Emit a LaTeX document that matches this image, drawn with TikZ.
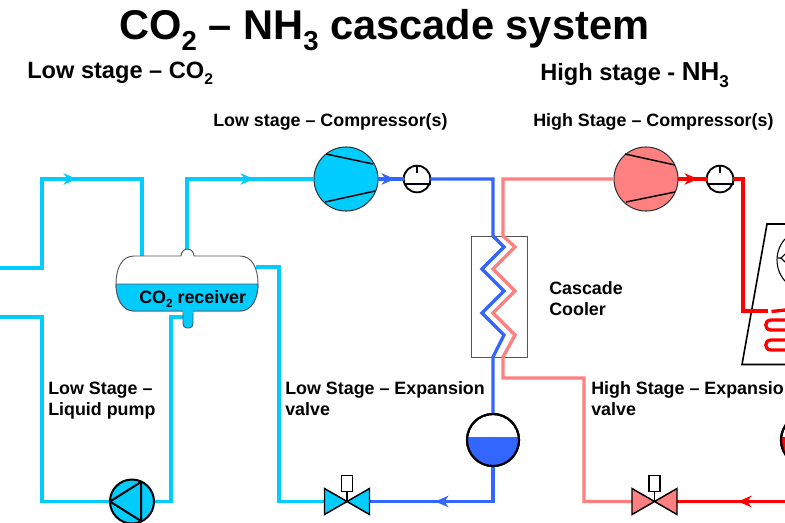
\documentclass[tikz,border=0pt]{standalone}
\usepackage{fontspec}
\usepackage{graphicx}
\setmainfont{Liberation Sans}
\usetikzlibrary{arrows.meta}
\definecolor{coC}{HTML}{00CCFF}
\definecolor{coB}{HTML}{3366FF}
\definecolor{nhP}{HTML}{FF8080}
\definecolor{nhR}{HTML}{FF0000}
\definecolor{edgeG}{HTML}{555555}
\newcommand\lowidx[1]{\raisebox{-0.27em}{\scalebox{.66}{#1}}}
\tikzset{
  pipe/.style={line width=2.5pt,line join=miter},
  pipeC/.style={pipe,draw=coC},
  pipeB/.style={pipe,draw=coB},
  pipeP/.style={pipe,draw=nhP},
  pipeR/.style={pipe,draw=nhR},
  tipped/.style={-{Stealth[length=10pt,width=8.5pt,inset=3pt]}},
  blackline/.style={draw=black,line width=1.1pt},
  compr/.style={circle,draw=black!80,line width=.8pt,minimum size=48pt,inner sep=0pt,outer sep=0pt},
  gauge/.style={circle,draw=black,line width=1.4pt,fill=white,minimum size=20pt,inner sep=0pt,outer sep=0pt},
  vess/.style={circle,draw=black,line width=1.6pt,minimum size=39pt,inner sep=0pt,outer sep=0pt},
  lbl/.style={font=\fontsize{13.4}{15.75}\selectfont\bfseries,anchor=base west,inner sep=0pt,align=left},
  head/.style={font=\fontsize{17.7}{20}\selectfont\bfseries,anchor=base west,inner sep=0pt},
}
\newcommand\valvesym[3]{% name, x, fill
  \begin{scope}[shift={(#2,501.5)}]
    \draw[blackline] (0,0) -- (0,-12);
    \draw[blackline,fill=white] (-5.5,-10) rectangle (5.5,-26);
    \draw[blackline,fill=#3,line join=miter] (-22.5,-13) -- (22.5,13) -- (22.5,-13) -- (-22.5,13) -- cycle;
  \end{scope}
}
\begin{document}
\begin{tikzpicture}[x=.75pt,y=-.75pt]
\useasboundingbox (0,0) rectangle (785,522);
\clip (0,0) rectangle (785,522);

% equipment nodes
\node[compr,fill=coC] (lowcomp) at (346,179) {};
\node[compr,fill=nhP] (highcomp) at (646,179) {};
\node[gauge] (lowgauge) at (417,179) {};
\node[gauge] (highgauge) at (720,179) {};
\node[vess] (lowvessel) at (493,440) {};
\node[vess] (highvessel) at (807,440) {};
\node[circle,minimum size=33pt,inner sep=0pt,outer sep=0pt] (pump) at (132,501.5) {};
\coordinate (lowvalveL) at (325,501.5);
\coordinate (lowvalveR) at (369,501.5);
\coordinate (highvalveL) at (632,501.5);
\coordinate (highvalveR) at (677,501.5);

% pipe junctions
\coordinate (edgeA) at (0,268);
\coordinate (a1) at (42,268);
\coordinate (a2) at (42,179);
\coordinate (a3) at (142,179);
\coordinate (a4) at (142,257);
\coordinate (atip) at (77,179);
\coordinate (atail) at (60,179);
\coordinate (b1) at (187,252);
\coordinate (b2) at (187,179);
\coordinate (btip) at (254,179);
\coordinate (btail) at (238,179);
\coordinate (c1) at (256,267);
\coordinate (c2) at (279,267);
\coordinate (c3) at (279,501.5);
\coordinate (edgeD) at (0,317);
\coordinate (d1) at (42,317);
\coordinate (d2) at (42,501.5);
\coordinate (e1) at (171,501.5);
\coordinate (e2) at (171,317);
\coordinate (e3) at (184,317);

% low stage cyan pipes
\draw[pipeC] (edgeA) -- (a1) -- (a2) -- (a3) -- (a4);
\draw[pipeC,tipped] (atail) -- (atip);
\draw[pipeC] (b1) -- (b2) -- (lowcomp.west);
\draw[pipeC,tipped] (btail) -- (btip);
\draw[pipeC] (c1) -- (c2) -- (c3) -- (lowvalveL);
\draw[pipeC] (edgeD) -- (d1) -- (d2) -- (pump.west);
\draw[pipeC] (pump.east) -- (e1) -- (e2) -- (e3);

% heat exchanger
\coordinate (hxtl) at (471,236);
\coordinate (hxbr) at (527,357);
\draw[draw=edgeG,line width=.6pt] (hxtl) rectangle (hxbr);

% low stage blue pipes
\coordinate (f1) at (493,179);
\coordinate (ftip) at (395,179);
\coordinate (ftail) at (378,179);
\coordinate (g1) at (493,501.5);
\coordinate (gtip) at (435,501.5);
\coordinate (gtail) at (452,501.5);
\draw[pipeB] (lowcomp.east) -- (lowgauge.west);
\draw[pipeB,tipped] (ftail) -- (ftip);
\draw[pipeB] (lowgauge.east) -- (f1) -- (493,236) -- (504,247) -- (482,269) -- (504,291) -- (482,313) -- (504,335) -- (493,357) -- (lowvessel.north);
\draw[pipeB] (lowvessel.south) -- (g1) -- (lowvalveR);
\draw[pipeB,tipped] (gtail) -- (gtip);

% high stage pink pipes
\coordinate (h1) at (503,179);
\coordinate (h2) at (503,378);
\coordinate (h3) at (584,378);
\coordinate (h4) at (584,501.5);
\draw[pipeP] (highcomp.west) -- (h1) -- (503,236) -- (515,247) -- (493,269) -- (515,291) -- (493,313) -- (515,335) -- (503,357) -- (h2) -- (h3) -- (h4) -- (highvalveL);

% high stage red pipes
\coordinate (j1) at (743,179);
\coordinate (j2) at (743,311);
\coordinate (j3) at (768,311);
\coordinate (j4) at (771.5,311.5);
\coordinate (j5) at (790,309.5);
\coordinate (ktip) at (698,179);
\coordinate (ktail) at (681,179);
\coordinate (ltip) at (738,501.5);
\coordinate (ltail) at (755,501.5);
\coordinate (edgeL) at (790,501.5);
\draw[pipeR] (highcomp.east) -- (highgauge.west);
\draw[pipeR,tipped] (ktail) -- (ktip);
\draw[pipeR] (highgauge.east) -- (j1) -- (j2) -- (j3);
\draw[pipeR] (j4) -- (j5);
\draw[pipeR] (edgeL) -- (highvalveR);
\draw[pipeR,tipped] (ltail) -- (ltip);

% compressor blades
\draw[blackline] (326,154) -- (373,164);
\draw[blackline] (325,202) -- (375,191);
\draw[blackline] (625,154) -- (675,165);
\draw[blackline] (626,202) -- (675,192);

% gauges
\draw[draw=black,line width=1pt] (417,165) -- (417,173);
\draw[draw=black,line width=1pt] (403.5,184) -- (430.5,184);
\draw[draw=black,line width=1pt] (720,165) -- (720,173);
\draw[draw=black,line width=1pt] (706.5,184) -- (733.5,184);

% vessels
\begin{scope}
  \clip (lowvessel) circle (26);
  \fill[coB] (460,437) rectangle (530,470);
\end{scope}
\node[vess] at (lowvessel) {};
\begin{scope}
  \clip (highvessel) circle (26);
  \fill[nhR] (770,437) rectangle (840,470);
\end{scope}
\node[vess] at (highvessel) {};

% pump
\node[circle,draw=black,line width=1.5pt,fill=coC,minimum size=33pt,inner sep=0pt,outer sep=0pt] at (pump) {};
\draw[draw=black,line width=1.5pt,line join=round] (110,501.5) -- (141,482) -- (141,521) -- cycle;

% valves
\valvesym{lowvalve}{347}{coC}
\valvesym{highvalve}{654.5}{nhP}

% receiver
\draw[draw=edgeG,line width=.7pt,fill=coC,rounded corners=3pt] (183,305) -- (183,328) -- (193,328) -- (193,305) -- cycle;
\draw[draw=edgeG,line width=.7pt,fill=white] (116,284) .. controls (116,268) and (122,256) .. (134,256) -- (181,256) .. controls (181,252) and (184,249) .. (187.5,249) .. controls (191,249) and (194,252) .. (194,256) -- (240,256) .. controls (252,256) and (258,268) .. (258,284) .. controls (258,298) and (252,311) .. (240,311) -- (134,311) .. controls (122,311) and (116,298) .. (116,284) -- cycle;
\fill[coC] (116,284) .. controls (116,298) and (122,311) .. (134,311) -- (240,311) .. controls (252,311) and (258,298) .. (258,284) -- cycle;
\draw[draw=edgeG,line width=.7pt] (116,284) .. controls (116,298) and (122,311) .. (134,311) -- (240,311) .. controls (252,311) and (258,298) .. (258,284) -- cycle;
\fill[coC] (183.4,309) rectangle (192.6,313);

% condenser
\coordinate (cdtl) at (767,224);
\coordinate (cdbl) at (742,364.5);
\draw[draw=black,line width=1.2pt,line join=miter] (790,224) -- (cdtl) -- (cdbl) -- (790,364.5);
\draw[pipeR] (j2) -- (j3);
\draw[pipeR] (790,320) -- (771,320) .. controls (764,320) and (764,330) .. (771,330) -- (790,330);
\draw[pipeR] (790,340) -- (771,340) .. controls (764,340) and (764,350) .. (771,350) -- (790,350);
\draw[draw=black,line width=.8pt] (808.6,260) circle (31.6);
\draw[draw=black,line width=.8pt] (777.5,258) -- (781,258) -- (785,254);
\draw[draw=black,line width=.8pt] (781,258) -- (785,262);

% texts
\node[font=\fontsize{31.2}{36}\selectfont\bfseries,anchor=base west,inner sep=0pt] (title) at (119,39) {CO\lowidx{2} – NH\lowidx{3} cascade system};
\node[head] (lowhead) at (27,78) {Low stage – CO\lowidx{2}};
\node[head] (highhead) at (540,80) {High stage - {\fontsize{19.5}{21}\selectfont NH\lowidx{3}}};
\node[lbl] (l1) at (213,126) {Low stage – Compressor(s)};
\node[lbl] (l2) at (533,126) {High Stage – Compressor(s)};
\node[lbl] (l3) at (549,315) {Cascade\\Cooler};
\node[lbl] (l4) at (48,415) {Low Stage –\\Liquid pump};
\node[lbl] (l5) at (285,415) {Low Stage – Expansion\\valve};
\node[lbl] (l6) at (591,415) {High Stage – Expansion\\valve};
\node[lbl] (l7) at (139,303) {CO\lowidx{2} receiver};
\end{tikzpicture}
\end{document}
